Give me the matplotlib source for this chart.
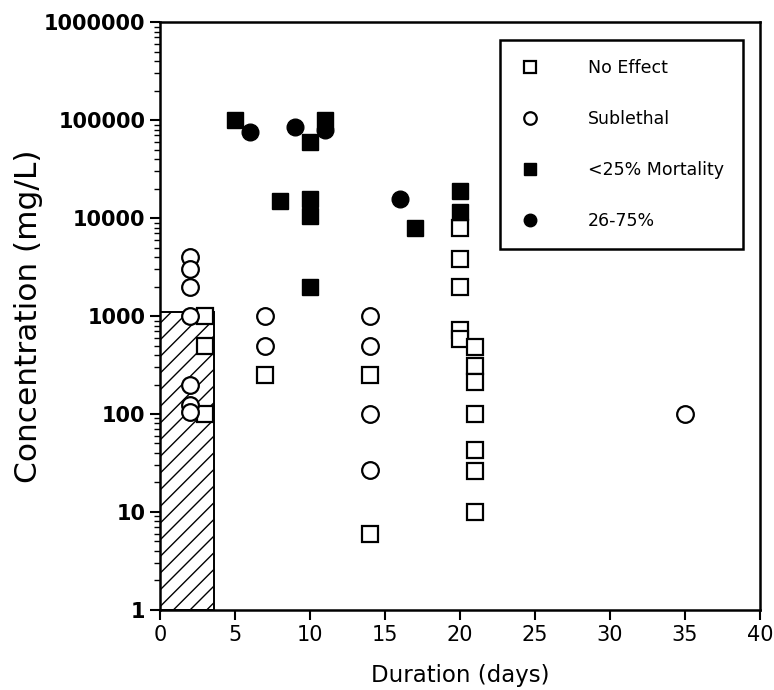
import matplotlib
matplotlib.use("Agg")
from matplotlib import pyplot as plt
from matplotlib.patches import Rectangle
from matplotlib.ticker import FixedLocator, FuncFormatter, LogLocator

plt.rcParams["font.family"] = ["DejaVu Sans"]
plt.rcParams["hatch.linewidth"] = 1.0

# data
no_effect_days = [3, 3, 3, 7, 14, 14, 20, 20, 20, 20, 20, 21, 21, 21, 21, 21, 21, 21]
no_effect_conc = [1000, 500, 100, 250, 250, 6, 8000, 3800, 2000, 720, 580, 480, 310, 210, 100, 43, 26, 10]

sublethal_days = [2, 2, 2, 2, 2, 2, 2, 7, 7, 14, 14, 14, 14, 35]
sublethal_conc = [4000, 3000, 2000, 1000, 200, 125, 105, 1000, 500, 1000, 500, 100, 27, 100]

mort25_days = [5, 8, 10, 10, 10, 10, 11, 17, 20, 20]
mort25_conc = [100000, 15000, 60000, 15500, 10500, 2000, 100000, 8000, 19000, 11500]

mort75_days = [6, 9, 11, 16]
mort75_conc = [76000, 84000, 80000, 15500]

bar_days = 3.6
bar_conc = 1100

y_ticks = [1, 10, 100, 1000, 10000, 100000, 1000000]
x_ticks = [0, 5, 10, 15, 20, 25, 30, 35, 40]

fig = plt.figure(figsize=(7.74, 6.90), dpi=100)
ax = fig.add_axes([0.207, 0.116, 0.775, 0.852])

ax.add_patch(Rectangle((0, 1), bar_days, bar_conc - 1, facecolor="white",
                       edgecolor="black", hatch="//", linewidth=1.4, zorder=1))

ms = 12
ax.plot(no_effect_days, no_effect_conc, linestyle="none", marker="s", markersize=ms,
        markerfacecolor="white", markeredgecolor="black", markeredgewidth=1.6,
        label="No Effect", zorder=3)
ax.plot(sublethal_days, sublethal_conc, linestyle="none", marker="o", markersize=ms,
        markerfacecolor="white", markeredgecolor="black", markeredgewidth=1.6,
        label="Sublethal", zorder=3)
ax.plot(mort25_days, mort25_conc, linestyle="none", marker="s", markersize=ms,
        color="black", label="<25% Mortality", zorder=4)
ax.plot(mort75_days, mort75_conc, linestyle="none", marker="o", markersize=ms,
        color="black", label="26-75%", zorder=4)

ax.set_yscale("log")
ax.set_xlim(0, 40)
ax.set_ylim(1, 1000000)
ax.xaxis.set_major_locator(FixedLocator(x_ticks))
ax.yaxis.set_major_locator(FixedLocator(y_ticks))
ax.yaxis.set_minor_locator(LogLocator(base=10, subs=range(2, 10)))
ax.yaxis.set_major_formatter(FuncFormatter(lambda v, p: f"{v:.0f}"))
ax.yaxis.set_minor_formatter(FuncFormatter(lambda v, p: ""))

for side in ax.spines.values():
    side.set_linewidth(1.8)
ax.tick_params(axis="both", which="major", direction="out", length=7, width=1.5,
               labelsize=15)
ax.tick_params(axis="y", which="minor", direction="out", length=4, width=1.0)
for lbl in ax.get_yticklabels():
    lbl.set_fontweight("bold")

ax.set_xlabel("Duration (days)", fontsize=16.5, labelpad=14)
ax.set_ylabel("Concentration (mg/L)", fontsize=22.5, labelpad=1)

leg = ax.legend(loc="upper right", bbox_to_anchor=(0.972, 0.969), borderaxespad=0,
                fontsize=12.5, labelspacing=1.9, handletextpad=2.7, borderpad=1.1,
                handlelength=1.26, markerscale=0.75, fancybox=False,
                edgecolor="black", framealpha=1)
leg.get_frame().set_linewidth(1.8)

fig.savefig("out.png", dpi=100)
plt.close(fig)
